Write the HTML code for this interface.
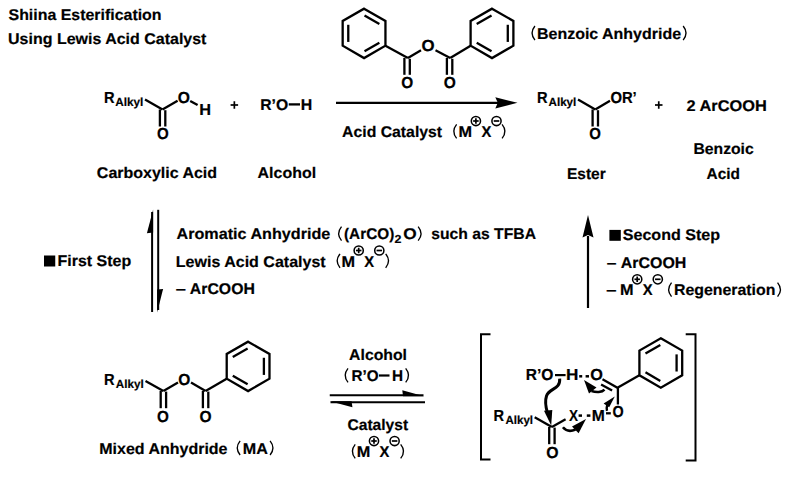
<!DOCTYPE html>
<html><head><meta charset="utf-8"><style>
html,body{margin:0;padding:0;background:#fff;}
body{width:800px;height:477px;overflow:hidden;}
svg{display:block;}
text{font-family:"Liberation Sans",sans-serif;fill:#000;stroke:#000;stroke-width:0.2px;stroke-linejoin:round;text-rendering:geometricPrecision;}
</style></head><body>
<svg width="800" height="477" viewBox="0 0 800 477" stroke="#000" stroke-linecap="butt">
<g stroke="none">
</g>
<text x="8.54" y="20.30" font-size="15.5" font-weight="bold" textLength="153.05" lengthAdjust="spacingAndGlyphs">Shiina Esterification</text>
<text x="8.04" y="44.40" font-size="15.5" font-weight="bold" textLength="198.40" lengthAdjust="spacingAndGlyphs">Using Lewis Acid Catalyst</text>
<text x="103.92" y="102.60" font-size="16" font-weight="bold" textLength="10.58" lengthAdjust="spacingAndGlyphs">R</text>
<text x="115.21" y="105.80" font-size="11.7" font-weight="bold" textLength="28.13" lengthAdjust="spacingAndGlyphs">Alkyl</text>
<line x1="145.00" y1="99.40" x2="162.50" y2="109.50" stroke-width="2.3"/>
<line x1="162.50" y1="109.50" x2="177.60" y2="100.80" stroke-width="2.3"/>
<line x1="159.90" y1="109.50" x2="159.90" y2="126.50" stroke-width="2.3"/>
<line x1="165.30" y1="110.20" x2="165.30" y2="126.50" stroke-width="2.3"/>
<text x="177.66" y="102.50" font-size="16" font-weight="bold" textLength="12.20" lengthAdjust="spacingAndGlyphs">O</text>
<line x1="190.20" y1="100.90" x2="197.60" y2="105.10" stroke-width="2.3"/>
<text x="199.31" y="114.50" font-size="16" font-weight="bold" textLength="11.79" lengthAdjust="spacingAndGlyphs">H</text>
<text x="156.88" y="139.30" font-size="16" font-weight="bold" textLength="11.75" lengthAdjust="spacingAndGlyphs">O</text>
<line x1="230.60" y1="105.00" x2="238.10" y2="105.00" stroke-width="1.7"/>
<line x1="234.35" y1="101.25" x2="234.35" y2="108.75" stroke-width="1.7"/>
<text x="260.20" y="110.00" font-size="15.5" font-weight="bold" textLength="27.96" lengthAdjust="spacingAndGlyphs">R’O</text>
<line x1="288.75" y1="104.40" x2="300.00" y2="104.40" stroke-width="2.3"/>
<text x="300.84" y="110.00" font-size="15.5" font-weight="bold" textLength="11.49" lengthAdjust="spacingAndGlyphs">H</text>
<text x="96.85" y="178.00" font-size="15.5" font-weight="bold" textLength="120.20" lengthAdjust="spacingAndGlyphs">Carboxylic Acid</text>
<text x="257.60" y="178.00" font-size="15.5" font-weight="bold" textLength="58.53" lengthAdjust="spacingAndGlyphs">Alcohol</text>
<path d="M364.06,8.65 L385.45,21.00 L385.45,45.70 L364.06,58.05 L342.67,45.70 L342.67,21.00 Z" stroke-width="2.3" fill="none" stroke-linejoin="miter"/>
<line x1="364.53" y1="15.39" x2="379.38" y2="23.96" stroke-width="2.3"/>
<line x1="379.38" y1="42.74" x2="364.53" y2="51.31" stroke-width="2.3"/>
<line x1="348.27" y1="41.92" x2="348.27" y2="24.78" stroke-width="2.3"/>
<path d="M492.00,8.65 L513.39,21.00 L513.39,45.70 L492.00,58.05 L470.61,45.70 L470.61,21.00 Z" stroke-width="2.3" fill="none" stroke-linejoin="miter"/>
<line x1="507.79" y1="24.78" x2="507.79" y2="41.92" stroke-width="2.3"/>
<line x1="491.53" y1="51.31" x2="476.68" y2="42.74" stroke-width="2.3"/>
<line x1="476.68" y1="23.96" x2="491.53" y2="15.39" stroke-width="2.3"/>
<line x1="385.45" y1="45.70" x2="407.90" y2="57.90" stroke-width="2.3"/>
<line x1="407.90" y1="57.90" x2="421.00" y2="50.30" stroke-width="2.3"/>
<text x="421.61" y="51.10" font-size="16" font-weight="bold" textLength="13.10" lengthAdjust="spacingAndGlyphs">O</text>
<line x1="435.50" y1="50.30" x2="450.20" y2="57.90" stroke-width="2.3"/>
<line x1="450.20" y1="57.90" x2="470.60" y2="45.70" stroke-width="2.3"/>
<line x1="404.40" y1="57.90" x2="404.40" y2="74.80" stroke-width="2.3"/>
<line x1="409.80" y1="58.80" x2="409.80" y2="74.80" stroke-width="2.3"/>
<line x1="446.90" y1="57.90" x2="446.90" y2="74.80" stroke-width="2.3"/>
<line x1="452.30" y1="58.80" x2="452.30" y2="74.80" stroke-width="2.3"/>
<text x="401.37" y="87.80" font-size="16" font-weight="bold" textLength="11.98" lengthAdjust="spacingAndGlyphs">O</text>
<text x="443.76" y="87.80" font-size="16" font-weight="bold" textLength="12.09" lengthAdjust="spacingAndGlyphs">O</text>
<path d="M534.93,26.00 Q529.22,33.05 534.93,40.10" stroke-width="1.35" fill="none"/>
<text x="537.04" y="38.70" font-size="15.5" font-weight="bold" textLength="144.01" lengthAdjust="spacingAndGlyphs">Benzoic Anhydride</text>
<path d="M683.17,26.00 Q688.88,33.05 683.17,40.10" stroke-width="1.35" fill="none"/>
<line x1="336.00" y1="102.80" x2="498.00" y2="102.80" stroke-width="2.2"/>
<polygon points="517.50,102.80 495.30,97.20 497.80,102.80 495.30,108.40" fill="#000" stroke="none"/>
<text x="342.11" y="137.00" font-size="15.5" font-weight="bold" textLength="99.99" lengthAdjust="spacingAndGlyphs">Acid Catalyst</text>
<path d="M456.62,124.30 Q450.93,131.35 456.62,138.40" stroke-width="1.35" fill="none"/>
<text x="458.61" y="137.00" font-size="15.5" font-weight="bold" textLength="13.58" lengthAdjust="spacingAndGlyphs">M</text>
<circle cx="475.90" cy="121.00" r="4.6" stroke-width="1.55" fill="none"/>
<line x1="473.14" y1="121.00" x2="478.66" y2="121.00" stroke-width="1.7"/>
<line x1="475.90" y1="118.24" x2="475.90" y2="123.76" stroke-width="1.7"/>
<text x="481.47" y="137.00" font-size="15.5" font-weight="bold" textLength="9.86" lengthAdjust="spacingAndGlyphs">X</text>
<circle cx="496.50" cy="121.00" r="4.6" stroke-width="1.55" fill="none"/>
<line x1="493.74" y1="121.00" x2="499.26" y2="121.00" stroke-width="1.7"/>
<path d="M502.07,124.30 Q507.77,131.35 502.07,138.40" stroke-width="1.35" fill="none"/>
<text x="537.12" y="102.70" font-size="16" font-weight="bold" textLength="10.58" lengthAdjust="spacingAndGlyphs">R</text>
<text x="548.51" y="105.80" font-size="11.7" font-weight="bold" textLength="27.81" lengthAdjust="spacingAndGlyphs">Alkyl</text>
<line x1="578.00" y1="99.40" x2="595.25" y2="109.50" stroke-width="2.3"/>
<line x1="595.25" y1="109.50" x2="610.00" y2="100.80" stroke-width="2.3"/>
<line x1="592.60" y1="109.50" x2="592.60" y2="126.50" stroke-width="2.3"/>
<line x1="598.00" y1="110.20" x2="598.00" y2="126.50" stroke-width="2.3"/>
<text x="610.39" y="102.50" font-size="16" font-weight="bold" textLength="26.36" lengthAdjust="spacingAndGlyphs">OR’</text>
<text x="589.19" y="139.30" font-size="16" font-weight="bold" textLength="11.64" lengthAdjust="spacingAndGlyphs">O</text>
<line x1="655.00" y1="105.00" x2="662.50" y2="105.00" stroke-width="1.7"/>
<line x1="658.75" y1="101.25" x2="658.75" y2="108.75" stroke-width="1.7"/>
<text x="686.44" y="110.80" font-size="15.5" font-weight="bold" textLength="80.36" lengthAdjust="spacingAndGlyphs">2 ArCOOH</text>
<text x="693.45" y="153.50" font-size="15.5" font-weight="bold" textLength="60.31" lengthAdjust="spacingAndGlyphs">Benzoic</text>
<text x="706.62" y="178.50" font-size="15.5" font-weight="bold" textLength="33.40" lengthAdjust="spacingAndGlyphs">Acid</text>
<text x="566.96" y="178.50" font-size="15.5" font-weight="bold" textLength="38.77" lengthAdjust="spacingAndGlyphs">Ester</text>
<line x1="152.10" y1="212.00" x2="152.10" y2="312.00" stroke-width="2.0"/>
<polygon points="153.15,209.50 146.90,233.20 153.15,232.50" fill="#000" stroke="none"/>
<line x1="158.20" y1="209.80" x2="158.20" y2="310.00" stroke-width="2.0"/>
<polygon points="157.15,312.50 163.10,289.00 157.15,289.50" fill="#000" stroke="none"/>
<rect x="44" y="255.5" width="11.25" height="11" fill="#000" stroke="none"/>
<text x="57.53" y="266.10" font-size="15.5" font-weight="bold" textLength="73.62" lengthAdjust="spacingAndGlyphs">First Step</text>
<text x="176.50" y="239.25" font-size="15.5" font-weight="bold" textLength="153.80" lengthAdjust="spacingAndGlyphs">Aromatic Anhydride</text>
<path d="M341.52,226.55 Q335.83,233.60 341.52,240.65" stroke-width="1.35" fill="none"/>
<text x="343.99" y="239.25" font-size="15.5" font-weight="bold" textLength="50.28" lengthAdjust="spacingAndGlyphs">(ArCO)</text>
<text x="394.57" y="243.00" font-size="11.5" font-weight="bold" textLength="6.93" lengthAdjust="spacingAndGlyphs">2</text>
<text x="403.29" y="239.25" font-size="15.5" font-weight="bold" textLength="13.43" lengthAdjust="spacingAndGlyphs">O</text>
<path d="M418.18,226.55 Q423.87,233.60 418.18,240.65" stroke-width="1.35" fill="none"/>
<text x="431.20" y="239.25" font-size="15.5" font-weight="bold" textLength="104.82" lengthAdjust="spacingAndGlyphs">such as TFBA</text>
<text x="175.83" y="266.50" font-size="15.5" font-weight="bold" textLength="149.86" lengthAdjust="spacingAndGlyphs">Lewis Acid Catalyst</text>
<path d="M340.02,253.80 Q334.33,260.85 340.02,267.90" stroke-width="1.35" fill="none"/>
<text x="341.41" y="266.50" font-size="15.5" font-weight="bold" textLength="13.58" lengthAdjust="spacingAndGlyphs">M</text>
<circle cx="358.70" cy="250.50" r="4.6" stroke-width="1.55" fill="none"/>
<line x1="355.94" y1="250.50" x2="361.46" y2="250.50" stroke-width="1.7"/>
<line x1="358.70" y1="247.74" x2="358.70" y2="253.26" stroke-width="1.7"/>
<text x="364.27" y="266.50" font-size="15.5" font-weight="bold" textLength="9.86" lengthAdjust="spacingAndGlyphs">X</text>
<circle cx="379.30" cy="250.50" r="4.6" stroke-width="1.55" fill="none"/>
<line x1="376.54" y1="250.50" x2="382.06" y2="250.50" stroke-width="1.7"/>
<path d="M385.68,253.80 Q391.37,260.85 385.68,267.90" stroke-width="1.35" fill="none"/>
<text x="175.65" y="294.00" font-size="15.5" font-weight="bold" textLength="10.11" lengthAdjust="spacingAndGlyphs">–</text>
<text x="189.86" y="294.00" font-size="15.5" font-weight="bold" textLength="65.01" lengthAdjust="spacingAndGlyphs">ArCOOH</text>
<line x1="588.00" y1="236.00" x2="588.00" y2="308.00" stroke-width="2.2"/>
<polygon points="588.00,215.00 582.50,237.50 588.00,235.00 593.50,237.50" fill="#000" stroke="none"/>
<rect x="609.4" y="229.9" width="11.4" height="10.9" fill="#000" stroke="none"/>
<text x="622.74" y="240.40" font-size="15.5" font-weight="bold" textLength="97.32" lengthAdjust="spacingAndGlyphs">Second Step</text>
<text x="606.77" y="268.00" font-size="15.5" font-weight="bold" textLength="9.66" lengthAdjust="spacingAndGlyphs">–</text>
<text x="620.70" y="268.00" font-size="15.5" font-weight="bold" textLength="65.67" lengthAdjust="spacingAndGlyphs">ArCOOH</text>
<text x="606.34" y="295.30" font-size="15.5" font-weight="bold" textLength="10.22" lengthAdjust="spacingAndGlyphs">–</text>
<text x="619.91" y="295.30" font-size="15.5" font-weight="bold" textLength="13.58" lengthAdjust="spacingAndGlyphs">M</text>
<circle cx="637.20" cy="279.30" r="4.6" stroke-width="1.55" fill="none"/>
<line x1="634.44" y1="279.30" x2="639.96" y2="279.30" stroke-width="1.7"/>
<line x1="637.20" y1="276.54" x2="637.20" y2="282.06" stroke-width="1.7"/>
<text x="642.77" y="295.30" font-size="15.5" font-weight="bold" textLength="9.86" lengthAdjust="spacingAndGlyphs">X</text>
<circle cx="657.80" cy="279.30" r="4.6" stroke-width="1.55" fill="none"/>
<line x1="655.04" y1="279.30" x2="660.56" y2="279.30" stroke-width="1.7"/>
<path d="M671.53,282.60 Q665.82,289.65 671.53,296.70" stroke-width="1.35" fill="none"/>
<text x="673.94" y="295.30" font-size="15.5" font-weight="bold" textLength="101.45" lengthAdjust="spacingAndGlyphs">Regeneration</text>
<path d="M777.57,282.60 Q783.28,289.65 777.57,296.70" stroke-width="1.35" fill="none"/>
<text x="104.12" y="385.00" font-size="16" font-weight="bold" textLength="10.58" lengthAdjust="spacingAndGlyphs">R</text>
<text x="115.71" y="388.30" font-size="11.7" font-weight="bold" textLength="27.92" lengthAdjust="spacingAndGlyphs">Alkyl</text>
<line x1="145.50" y1="381.10" x2="163.40" y2="390.90" stroke-width="2.3"/>
<line x1="163.40" y1="390.90" x2="178.00" y2="382.50" stroke-width="2.3"/>
<text x="178.16" y="385.30" font-size="16" font-weight="bold" textLength="12.09" lengthAdjust="spacingAndGlyphs">O</text>
<line x1="191.00" y1="382.50" x2="205.60" y2="390.90" stroke-width="2.3"/>
<line x1="205.60" y1="390.90" x2="226.70" y2="378.70" stroke-width="2.3"/>
<path d="M248.10,341.65 L269.49,354.00 L269.49,378.70 L248.10,391.05 L226.71,378.70 L226.71,354.00 Z" stroke-width="2.3" fill="none" stroke-linejoin="miter"/>
<line x1="263.89" y1="357.78" x2="263.89" y2="374.92" stroke-width="2.3"/>
<line x1="247.63" y1="384.31" x2="232.78" y2="375.74" stroke-width="2.3"/>
<line x1="232.78" y1="356.96" x2="247.63" y2="348.39" stroke-width="2.3"/>
<line x1="160.70" y1="390.90" x2="160.70" y2="408.20" stroke-width="2.3"/>
<line x1="166.10" y1="391.60" x2="166.10" y2="408.20" stroke-width="2.3"/>
<line x1="202.90" y1="390.90" x2="202.90" y2="408.20" stroke-width="2.3"/>
<line x1="208.30" y1="391.60" x2="208.30" y2="408.20" stroke-width="2.3"/>
<text x="157.07" y="421.70" font-size="16" font-weight="bold" textLength="11.87" lengthAdjust="spacingAndGlyphs">O</text>
<text x="199.56" y="421.70" font-size="16" font-weight="bold" textLength="12.09" lengthAdjust="spacingAndGlyphs">O</text>
<text x="99.23" y="453.60" font-size="15.5" font-weight="bold" textLength="128.31" lengthAdjust="spacingAndGlyphs">Mixed Anhydride</text>
<path d="M240.12,440.90 Q234.43,447.95 240.12,455.00" stroke-width="1.35" fill="none"/>
<text x="242.82" y="453.60" font-size="15.5" font-weight="bold" textLength="25.11" lengthAdjust="spacingAndGlyphs">MA</text>
<path d="M270.08,440.90 Q275.77,447.95 270.08,455.00" stroke-width="1.35" fill="none"/>
<text x="349.11" y="359.90" font-size="15.5" font-weight="bold" textLength="57.91" lengthAdjust="spacingAndGlyphs">Alcohol</text>
<path d="M348.02,368.30 Q342.33,375.35 348.02,382.40" stroke-width="1.35" fill="none"/>
<text x="351.48" y="381.00" font-size="15.5" font-weight="bold" textLength="27.16" lengthAdjust="spacingAndGlyphs">R’O</text>
<line x1="379.00" y1="375.50" x2="389.50" y2="375.50" stroke-width="2.2"/>
<text x="391.98" y="381.00" font-size="15.5" font-weight="bold" textLength="11.06" lengthAdjust="spacingAndGlyphs">H</text>
<path d="M405.68,368.30 Q411.37,375.35 405.68,382.40" stroke-width="1.35" fill="none"/>
<line x1="329.75" y1="395.30" x2="423.50" y2="395.30" stroke-width="2.1"/>
<polygon points="424.00,396.35 402.30,390.20 403.00,396.35" fill="#000" stroke="none"/>
<line x1="330.50" y1="402.20" x2="425.00" y2="402.20" stroke-width="2.1"/>
<polygon points="330.00,401.15 352.40,407.20 351.60,401.15" fill="#000" stroke="none"/>
<text x="347.46" y="429.90" font-size="15.5" font-weight="bold" textLength="60.73" lengthAdjust="spacingAndGlyphs">Catalyst</text>
<path d="M355.22,444.30 Q349.53,451.35 355.22,458.40" stroke-width="1.35" fill="none"/>
<text x="356.71" y="457.00" font-size="15.5" font-weight="bold" textLength="13.58" lengthAdjust="spacingAndGlyphs">M</text>
<circle cx="374.00" cy="441.00" r="4.6" stroke-width="1.55" fill="none"/>
<line x1="371.24" y1="441.00" x2="376.76" y2="441.00" stroke-width="1.7"/>
<line x1="374.00" y1="438.24" x2="374.00" y2="443.76" stroke-width="1.7"/>
<text x="379.57" y="457.00" font-size="15.5" font-weight="bold" textLength="9.86" lengthAdjust="spacingAndGlyphs">X</text>
<circle cx="394.60" cy="441.00" r="4.6" stroke-width="1.55" fill="none"/>
<line x1="391.84" y1="441.00" x2="397.36" y2="441.00" stroke-width="1.7"/>
<path d="M400.68,444.30 Q406.37,451.35 400.68,458.40" stroke-width="1.35" fill="none"/>
<path d="M490.5,334.2 L481,334.2 L481,459.5 L490.5,459.5" stroke-width="2.0" fill="none"/>
<path d="M685.7,334.2 L695.5,334.2 L695.5,460.5 L685.7,460.5" stroke-width="2.0" fill="none"/>
<text x="525.76" y="380.30" font-size="16" font-weight="bold" textLength="27.70" lengthAdjust="spacingAndGlyphs">R’O</text>
<line x1="555.00" y1="375.10" x2="565.60" y2="375.10" stroke-width="2.2"/>
<text x="566.05" y="380.30" font-size="16" font-weight="bold" textLength="12.41" lengthAdjust="spacingAndGlyphs">H</text>
<line x1="579.20" y1="376.30" x2="582.20" y2="376.30" stroke-width="2.5"/>
<line x1="585.60" y1="376.30" x2="589.00" y2="376.30" stroke-width="2.5"/>
<text x="590.33" y="380.30" font-size="16" font-weight="bold" textLength="12.65" lengthAdjust="spacingAndGlyphs">O</text>
<line x1="602.50" y1="379.25" x2="618.30" y2="388.20" stroke-width="2.3"/>
<line x1="601.10" y1="384.60" x2="612.10" y2="390.60" stroke-width="2.3"/>
<line x1="617.90" y1="387.50" x2="617.90" y2="404.50" stroke-width="2.3"/>
<line x1="617.90" y1="387.50" x2="639.40" y2="375.30" stroke-width="2.3"/>
<path d="M660.80,338.25 L682.19,350.60 L682.19,375.30 L660.80,387.65 L639.41,375.30 L639.41,350.60 Z" stroke-width="2.3" fill="none" stroke-linejoin="miter"/>
<line x1="676.59" y1="354.38" x2="676.59" y2="371.52" stroke-width="2.3"/>
<line x1="660.33" y1="380.91" x2="645.48" y2="372.34" stroke-width="2.3"/>
<line x1="645.48" y1="353.56" x2="660.33" y2="344.99" stroke-width="2.3"/>
<text x="612.41" y="416.70" font-size="16" font-weight="bold" textLength="11.19" lengthAdjust="spacingAndGlyphs">O</text>
<text x="591.75" y="420.50" font-size="16" font-weight="bold" textLength="13.05" lengthAdjust="spacingAndGlyphs">M</text>
<line x1="606.00" y1="413.30" x2="610.80" y2="413.30" stroke-width="2.3"/>
<text x="493.52" y="421.00" font-size="16" font-weight="bold" textLength="10.58" lengthAdjust="spacingAndGlyphs">R</text>
<text x="505.51" y="424.00" font-size="11.7" font-weight="bold" textLength="27.50" lengthAdjust="spacingAndGlyphs">Alkyl</text>
<line x1="534.70" y1="417.20" x2="551.90" y2="427.00" stroke-width="2.3"/>
<line x1="551.90" y1="427.00" x2="565.60" y2="419.25" stroke-width="2.3"/>
<line x1="549.20" y1="427.00" x2="549.20" y2="444.20" stroke-width="2.3"/>
<line x1="554.60" y1="427.60" x2="554.60" y2="444.20" stroke-width="2.3"/>
<text x="546.35" y="457.70" font-size="16" font-weight="bold" textLength="12.31" lengthAdjust="spacingAndGlyphs">O</text>
<text x="569.08" y="421.00" font-size="16" font-weight="bold" textLength="9.04" lengthAdjust="spacingAndGlyphs">X</text>
<line x1="578.60" y1="415.60" x2="582.00" y2="415.60" stroke-width="2.5"/>
<line x1="586.80" y1="415.60" x2="590.40" y2="415.60" stroke-width="2.5"/>
<path d="M559.7,378.6 C560.5,390 549,388 546.5,396 C544.5,402 546,408 547.5,413" stroke-width="3.0" fill="none"/>
<polygon points="551.20,425.40 544.00,410.80 552.30,410.00" fill="#000" stroke="none"/>
<path d="M562.9,427.2 C566,431 571,431.5 575.5,429.5" stroke-width="2.6" fill="none"/>
<polygon points="586.00,419.00 572.00,426.60 578.60,433.20" fill="#000" stroke="none"/>
<path d="M607.0,410.8 C606.4,409 606.6,407.2 607.2,405.2" stroke-width="2.4" fill="none"/>
<polygon points="614.80,396.40 603.60,403.40 609.20,407.20" fill="#000" stroke="none"/>
<path d="M604.5,389.6 C602,392.5 596,392.5 591.5,391" stroke-width="2.4" fill="none"/>
<polygon points="584.00,380.00 589.00,393.50 596.50,387.50" fill="#000" stroke="none"/>
</svg>
</body></html>
